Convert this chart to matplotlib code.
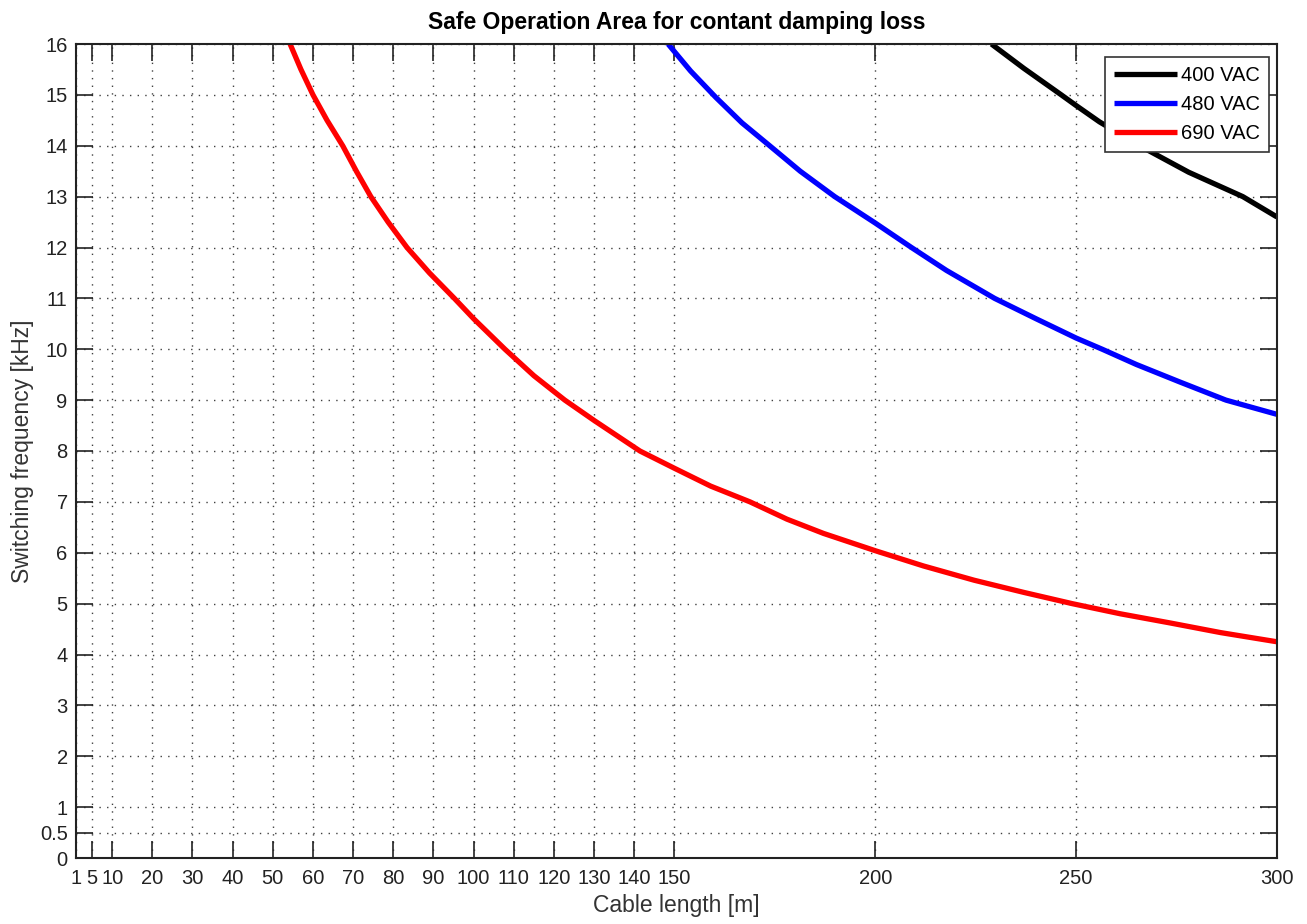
import numpy as np
import matplotlib.pyplot as plt

plt.rcParams['font.family'] = ['Liberation Sans', 'DejaVu Sans']

# values (cable length in m, switching freq in kHz)
len_400 = [228.9, 237, 246.3, 250, 255.8, 265.8, 278, 291.5, 300]
freq_400 = [16, 15.52, 15, 14.79, 14.47, 14, 13.48, 13, 12.6]

len_480 = [148.4, 154, 160.3, 166.8, 173.7, 181.3, 189.9, 200, 209, 217.7,
           229.7, 240, 250, 256.5, 265, 275.7, 287.3, 300]
freq_480 = [16, 15.47, 14.95, 14.45, 14, 13.5, 13, 12.48, 12, 11.55,
            11, 10.6, 10.22, 10, 9.7, 9.36, 9, 8.72]

len_690 = [54.3, 57, 60, 63.5, 67.4, 70.8, 74.4, 78.7, 83.4, 89, 95.2, 100,
           107.8, 115, 122.7, 130, 141.4, 150, 159, 168.8, 178, 187.1, 200,
           212, 224.6, 237, 249, 261, 273.4, 286, 300]
freq_690 = [16, 15.5, 15, 14.5, 14, 13.5, 13, 12.5, 12, 11.5, 11, 10.6,
            10, 9.48, 9, 8.6, 8.0, 7.66, 7.31, 7, 6.66, 6.38, 6.04,
            5.74, 5.46, 5.22, 5.0, 4.8, 4.62, 4.43, 4.25]

labels = ['400 VAC', '480 VAC', '690 VAC']
colors = ['k', 'b', 'r']

xticks = [1, 5, 10, 20, 30, 40, 50, 60, 70, 80, 90, 100, 110, 120, 130, 140,
          150, 200, 250, 300]
yticks = [0, 0.5, 1, 2, 3, 4, 5, 6, 7, 8, 9, 10, 11, 12, 13, 14, 15, 16]

fig = plt.figure(figsize=(13.07, 9.24), dpi=100)
ax = fig.add_axes([76/1307, 66/924, 1201/1307, 814/924])

for xs, ys, lab, c in zip([len_400, len_480, len_690],
                          [freq_400, freq_480, freq_690], labels, colors):
    ax.plot(xs, ys, color=c, lw=3.8, label=lab, solid_capstyle='butt',
            solid_joinstyle='round')

ax.set_xlim(1, 300)
ax.set_ylim(0, 16)
ax.set_xticks(xticks)
ax.set_xticklabels([str(t) for t in xticks])
ax.set_yticks(yticks)
ax.set_yticklabels(['0', '0.5'] + [str(t) for t in yticks[2:]])
ax.tick_params(direction='in', length=12, width=1.2, top=True, right=True,
               labelsize=14.5, colors='#222222')
ax.tick_params(axis='x', pad=8)
ax.tick_params(axis='y', pad=6)
ax.grid(True, color='0.25', linestyle=(0, (1, 4.5)), linewidth=1.0)
for s in ax.spines.values():
    s.set_linewidth(1.5)
    s.set_color('#222222')

ax.set_xlabel('Cable length [m]', fontsize=16.5, color='#333333', labelpad=4)
ax.set_ylabel('Switching frequency [kHz]', fontsize=16.5, color='#333333',
              labelpad=4)
ax.set_title('Safe Operation Area for contant damping loss', fontsize=16.5,
             fontweight='bold', pad=11)

leg = ax.legend(loc='upper right', bbox_to_anchor=(0.993, 0.984), fontsize=14.5,
                fancybox=False, framealpha=1, edgecolor='#333333',
                handlelength=3.1, borderpad=0.45, labelspacing=0.5,
                handletextpad=0.2, borderaxespad=0)
leg.get_frame().set_linewidth(1.2)

fig.savefig('out.png', dpi=100)
